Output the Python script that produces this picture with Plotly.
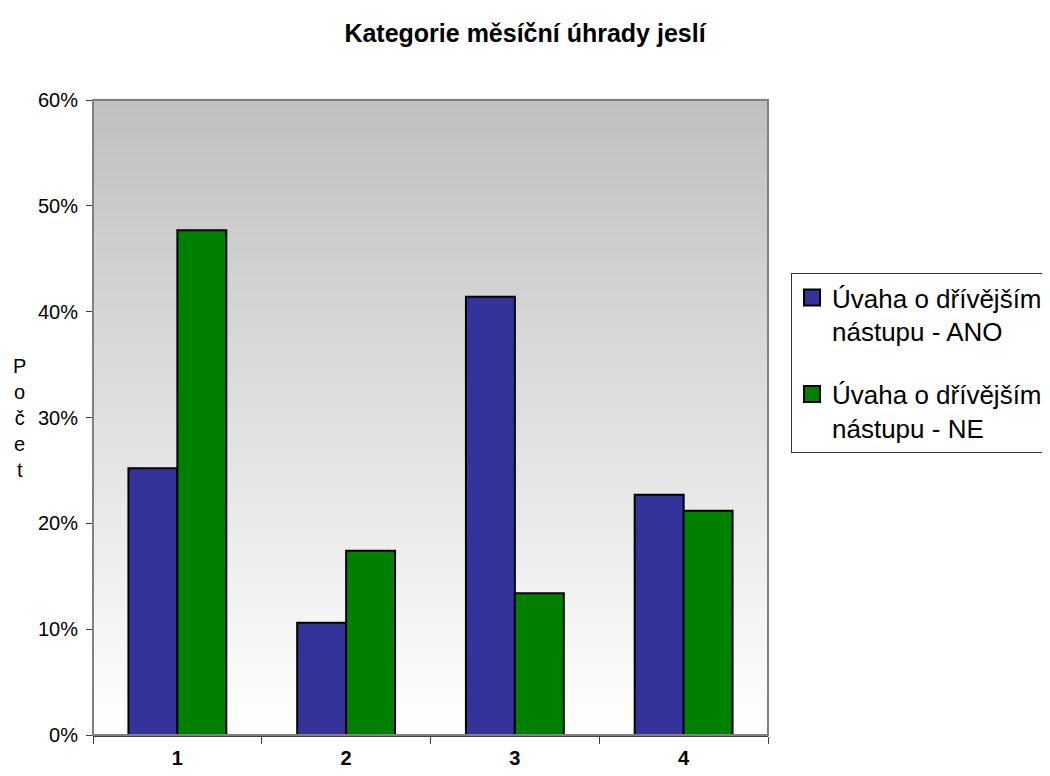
import plotly.graph_objects as go

categories = ["1", "2", "3", "4"]
ano_values = [0.252, 0.106, 0.414, 0.227]
ne_values = [0.477, 0.174, 0.134, 0.212]
series_names = ["Úvaha o dřívějším<br>nástupu - ANO", "Úvaha o dřívějším<br>nástupu - NE"]
series_colors = ["#333399", "#008000"]
y_ticks = [0, 0.1, 0.2, 0.3, 0.4, 0.5, 0.6]

fig = go.Figure()
for name, vals, col, grp in zip(series_names, [ano_values, ne_values], series_colors, ["a", "b"]):
    fig.add_trace(go.Bar(x=categories, y=vals, name=name, legendgroup=grp, showlegend=False,
                         marker=dict(color=col, line=dict(color="black", width=2))))
    # legend-only entry with a larger square swatch
    fig.add_trace(go.Scatter(x=[None], y=[None], mode="markers", name=name, legendgroup=grp,
                             marker=dict(symbol="square", size=16, color=col,
                                         line=dict(color="black", width=2))))

# gradient background: strips from gray (top) to white (bottom)
n = 80
shapes = []
for i in range(n):
    t = i / (n - 1)  # 0 bottom -> 1 top
    c = int(round(255 - (255 - 192) * t))
    shapes.append(dict(type="rect", xref="x domain", yref="y domain",
                       x0=0, x1=1, y0=i / n, y1=(i + 1) / n + 0.002,
                       fillcolor=f"rgb({c},{c},{c})", line=dict(width=0), layer="below"))
shapes.append(dict(type="rect", xref="x domain", yref="y domain", x0=0, x1=1, y0=0, y1=1,
                   line=dict(color="#808080", width=2), layer="above"))

W, H = 1050, 776
OFF = 8  # page body margin offset
fig.update_layout(
    width=W, height=H,
    margin=dict(l=93 - OFF, r=W - (768 - OFF), t=100 - OFF, b=H - (735 - OFF), autoexpand=False),
    paper_bgcolor="white", plot_bgcolor="white",
    font=dict(family="Liberation Sans, Arial", color="black", size=20),
    title=dict(text="<b>Kategorie měsíční úhrady jeslí</b>", x=(525 - OFF) / W, xanchor="center",
               xref="container", y=1 - (33 - OFF) / H, yanchor="middle", font=dict(size=25)),
    barmode="group", bargap=0.42, bargroupgap=0,
    shapes=shapes,
    legend=dict(x=(791 - OFF) / W, xref="container", xanchor="left",
                y=1 - (273 - OFF) / H, yref="container", yanchor="top",
                bordercolor="#333333", borderwidth=1, bgcolor="white",
                font=dict(size=26), itemwidth=30, tracegroupgap=26,
                itemsizing="trace", traceorder="grouped", valign="top"),
    annotations=[dict(text="P<br>o<br>č<br>e<br>t", xref="paper", yref="paper",
                      x=-74 / 675, y=0.5, xanchor="center", yanchor="middle",
                      showarrow=False, font=dict(size=20))],
)
fig.update_xaxes(tickson="boundaries", ticks="outside", ticklen=7, tickcolor="#404040",
                 showline=True, linecolor="#404040", linewidth=2, ticklabelstandoff=4,
                 tickfont=dict(size=20, family="Liberation Sans, Arial"),
                 tickprefix="<b>", ticksuffix="</b>", showgrid=False)
fig.update_yaxes(range=[0, 0.6], tickvals=y_ticks, tickformat=".0%", ticks="outside",
                 ticklen=6, tickcolor="#404040", showgrid=False, zeroline=False,
                 showline=False, ticklabelstandoff=4)

fig.write_html("out.html")
